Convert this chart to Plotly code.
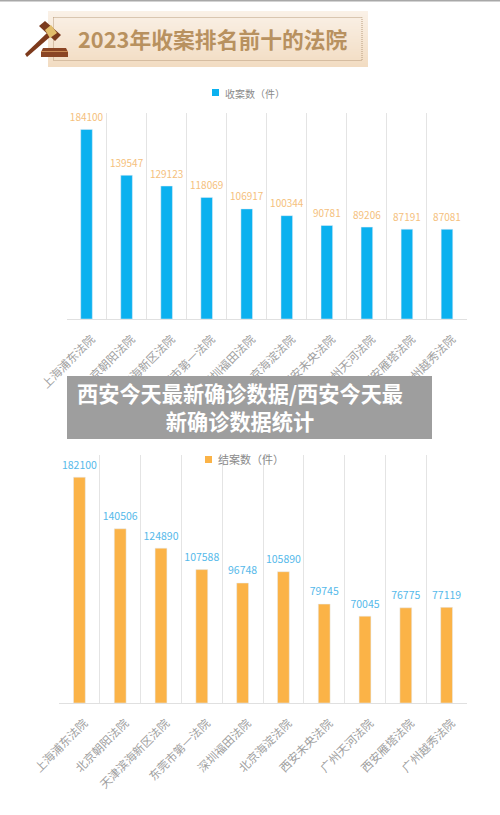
import plotly.graph_objects as go

W, H = 500, 815

courts = ["上海浦东法院", "北京朝阳法院", "天津滨海新区法院", "东莞市第一法院", "深圳福田法院",
          "北京海淀法院", "西安未央法院", "广州天河法院", "西安雁塔法院", "广州越秀法院"]
received = [184100, 139547, 129123, 118069, 106917, 100344, 90781, 89206, 87191, 87081]
closed = [182100, 140506, 124890, 107588, 96748, 105890, 79745, 70045, 76775, 77119]
received_name = "收案数（件）"
closed_name = "结案数（件）"
banner_title = "2023年收案排名前十的法院"
overlay_title = "西安今天最新确诊数据/西安今天最<br>新确诊数据统计"

BLUE = "#0bb1ef"
ORANGE = "#fbb347"
FONT = "Noto Sans CJK SC"


def px(x):
    return x / W


def py(y):
    return 1 - y / H


def rect(x0, y0, x1, y1, color, **kw):
    return dict(type="rect", xref="paper", yref="paper", x0=px(x0), x1=px(x1), y0=py(y0), y1=py(y1),
                fillcolor=color, line=dict(width=0), layer="above", **kw)


def poly(points, color):
    path = "M" + "L".join(f"{px(x):.4f},{py(y):.4f}" for x, y in points) + "Z"
    return dict(type="path", xref="paper", yref="paper", path=path, fillcolor=color,
                line=dict(width=0), layer="above")


def label(text, x, y, size, color, **kw):
    return dict(text=text, xref="paper", yref="paper", x=px(x), y=py(y), xanchor="center", yanchor="middle",
                showarrow=False, font=dict(family=FONT, size=size, color=color, **kw))


def value_labels(values, color, size, xa, ya):
    # invisible markers hold the numbers a little above the bars
    return go.Scatter(x=courts, y=values, mode="markers+text", marker=dict(size=8, opacity=0),
                      text=values, textposition="top center", cliponaxis=False, hoverinfo="skip",
                      textfont=dict(color=color, size=size), xaxis=xa, yaxis=ya)


fig = go.Figure()

# --- the two bar charts ---
fig.add_trace(go.Bar(x=courts, y=received, marker_color=BLUE, width=0.29, xaxis="x", yaxis="y"))
fig.add_trace(go.Bar(x=courts, y=closed, marker_color=ORANGE, width=0.29, xaxis="x2", yaxis="y2"))
fig.add_trace(value_labels(received, "#f5bf7d", 10, "x", "y"))
fig.add_trace(value_labels(closed, "#55b9ea", 10.5, "x2", "y2"))

axis_x = dict(type="category", range=[-0.5, len(courts) - 0.5], tickson="boundaries", showgrid=True,
              gridcolor="#e4e4e4", gridwidth=1.2,
              showline=True, linecolor="#e0e0e0", linewidth=1.2, ticks="", automargin=False,
              tickangle=-45, tickfont=dict(size=11.5, color="#a0a0a0"),
              ticklabelstandoff=8, ticklabelshift=5)
axis_y = dict(range=[0, 200000], visible=False)

shapes = []

# --- banner with the gavel ---
top = (250, 241, 231)
bottom = (242, 220, 194)
for i in range(56):
    t = i / 55
    c = [round(a + (b - a) * t) for a, b in zip(top, bottom)]
    shapes.append(rect(48, 11 + i, 368, 67, f"rgb({c[0]},{c[1]},{c[2]})"))
shapes.append(dict(type="rect", xref="paper", yref="paper", x0=px(53.5), x1=px(362), y0=py(17.5), y1=py(60.5),
                   line=dict(color="#b89c7c", width=1, dash="1px,1px"), layer="above"))
shapes.append(poly([(25, 54), (27, 57), (50, 37), (47, 33)], "#7d3a1c"))
shapes.append(poly([(39, 26), (45, 21), (61, 35), (55, 41)], "#7a3a1e"))
shapes.append(poly([(45, 30), (51, 25), (57, 33), (50, 38)], "#e2bd6b"))
shapes.append(poly([(43, 48), (66, 48), (68, 52), (68, 57), (41, 57), (41, 52)], "#8a4524"))
shapes.append(rect(41, 51, 68, 52, "#c98a55"))

# --- legend squares ---
shapes.append(rect(212, 89, 219, 96, BLUE))
shapes.append(rect(205, 456, 212, 463, ORANGE))

# --- grey caption box over the labels ---
shapes.append(rect(67, 376, 432, 439, "#9e9e9e"))

# thin grey strip along the top edge of the page
shapes.append(rect(0, 0, 500, 1.5, "#a8a8a8"))

annotations = [
    label(banner_title, 212.5, 39, 21.8, "#b8915f", weight="bold"),
    label(received_name, 255, 93, 10, "#8a8a8a"),
    label(closed_name, 250.5, 459, 11, "#8a8a8a"),
    dict(label(overlay_title, 239.5, 406.5, 21.2, "white", weight="bold"), align="center"),
]

fig.update_layout(
    width=W, height=H, margin=dict(l=0, r=0, t=0, b=0, autoexpand=False),
    paper_bgcolor="white", plot_bgcolor="white",
    font=dict(family=FONT),
    barmode="overlay",
    showlegend=False,
    xaxis=dict(axis_x, domain=[px(66.5), px(467)], anchor="y"),
    yaxis=dict(axis_y, domain=[py(319), py(113)], anchor="x"),
    xaxis2=dict(axis_x, domain=[px(59), px(467)], anchor="y2"),
    yaxis2=dict(axis_y, domain=[py(703), py(455)], anchor="x2"),
    shapes=shapes,
    annotations=annotations,
)

fig.write_html("out.html", config=dict(displayModeBar=False),
               post_script="document.body.style.margin='0';document.body.style.overflow='hidden';")
